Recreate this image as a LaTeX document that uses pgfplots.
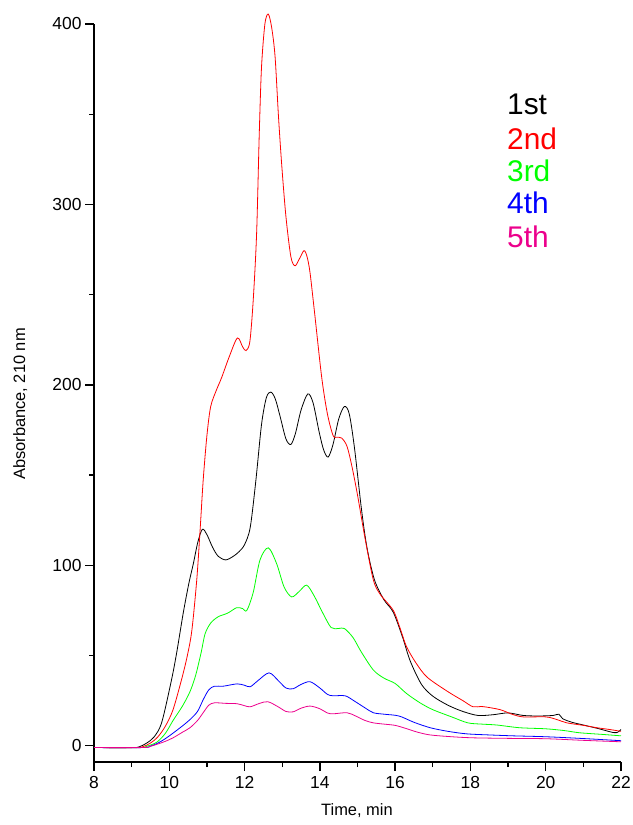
\documentclass[border=0pt]{standalone}
\usepackage{pgfplots}
\pgfplotsset{compat=1.18}
\usepackage{fontspec}
\setmainfont{Liberation Sans}

% Absorbance traces (210 nm) of five successive runs
\pgfplotstableread{
x y
8.0 -1
9.0 -1
9.2 -0.6
9.4 1.5
9.6 5
9.8 13
10.06 36.6
10.2 52
10.37 73.5
10.52 90
10.64 101
10.76 113
10.88 120
11.0 117
11.15 110
11.3 105
11.5 103
11.7 105
11.85 107.5
12.0 111.5
12.15 121
12.3 147
12.45 178
12.58 193
12.7 196
12.82 192
12.95 182
13.1 170
13.23 167
13.35 173
13.5 186
13.68 195
13.82 190
13.98 174
14.1 164
14.22 160
14.35 167
14.5 181
14.65 188
14.78 184
14.92 165
15.1 132
15.25 110
15.45 92
15.7 81
15.95 74
16.2 60
16.4 47
16.7 34
17.0 27.5
17.4 22.5
17.8 19
18.2 16.8
18.6 17.2
19.0 18.2
19.4 16.8
19.8 16.5
20.2 16.8
20.35 17.5
20.45 15
20.7 13
21.0 11.5
21.4 9.5
21.8 7.3
21.92 7.6
22.0 9
}\first

\pgfplotstableread{
x y
8.0 -1
9.1 -1
9.3 -0.5
9.5 1.5
9.7 5
9.9 11
10.1 20
10.33 37
10.48 50
10.6 64
10.73 92
10.82 120
10.9 147
11.0 172
11.1 188
11.25 197
11.39 204
11.6 216
11.81 226
11.95 221
12.04 219
12.14 224
12.23 247
12.32 284
12.39 339
12.45 376
12.54 400
12.63 405.5
12.72 398
12.81 382
12.9 349
12.99 321
13.1 293
13.23 271
13.34 266
13.46 270
13.58 274.4
13.66 271
13.74 262
13.87 238
14.05 204
14.2 184
14.35 172
14.45 171
14.58 170.5
14.72 166
14.85 155
15.0 139
15.2 115
15.42 92
15.6 84
15.95 75
16.15 64
16.3 55
16.55 46
16.85 38
17.4 30
17.8 25
18.07 21.6
18.33 21.7
18.79 20
19.1 17.5
19.4 16
20.0 16
20.3 14.5
20.56 12.7
21.0 11.3
21.36 10
21.7 9
22.0 8
}\second

\pgfplotstableread{
x y
8.0 -1
9.2 -1
9.4 -0.3
9.67 2
9.9 7
10.1 14
10.35 22
10.55 30
10.7 39
10.85 52
10.95 62
11.1 68
11.3 71.5
11.55 73.5
11.79 76.5
11.95 76
12.06 75
12.23 85
12.41 103
12.63 109.7
12.85 101
13.05 88
13.25 82.5
13.45 85.5
13.65 89
13.85 83
14.08 73.5
14.3 65.5
14.5 65
14.65 65
14.88 60
15.1 52
15.42 42
15.7 37.5
16.0 34.5
16.3 29
16.66 23.8
17.0 20
17.5 16
17.93 12.7
18.3 12
18.7 11.5
19.3 10
20.0 9.4
20.5 8.4
20.9 7.2
21.5 6.3
22.0 5.5
}\third

\pgfplotstableread{
x y
8.0 -1
9.3 -1
9.5 -0.2
9.7 1.5
9.9 4
10.1 7
10.35 11
10.55 14.5
10.75 19
10.9 25.5
11.05 31
11.2 33
11.43 33
11.8 34.3
12.0 33.5
12.15 32.7
12.35 36
12.65 40.4
12.9 36
13.1 32
13.29 31.6
13.5 34
13.74 35.5
14.0 32
14.2 28.5
14.35 27.7
14.67 27.7
14.9 25
15.2 21
15.42 18.3
15.7 17.5
16.1 16.5
16.5 13
16.93 10
17.4 8
17.9 6.6
18.5 6
19.13 5.5
20.0 5
21.0 4
22.0 2.8
}\fourth

\pgfplotstableread{
x y
8.0 -1
9.3 -1
9.5 -0.3
9.7 1
9.9 2.5
10.1 4.4
10.35 7.5
10.55 10
10.75 14
10.9 18.3
11.05 22.5
11.2 23.8
11.5 23.5
11.8 23.3
12.0 22.2
12.15 21.6
12.4 23.5
12.62 24.4
12.9 21.5
13.1 19
13.29 18.8
13.5 20.8
13.74 22
14.0 20.5
14.2 18.2
14.35 17.7
14.72 18.3
14.95 16.5
15.2 14
15.42 12.7
15.7 12
16.0 11.3
16.3 9.5
16.6 7.5
16.93 6
17.5 5
18.07 4.4
19.0 4.1
20.0 3.9
21.0 3
22.0 2.2
}\fifth

\begin{document}
\begin{tikzpicture}
\useasboundingbox (0,0) rectangle (633bp,825bp);
\begin{axis}[
  at={(94bp,63bp)}, anchor=south west,
  scale only axis, width=527bp, height=738bp,
  xmin=8, xmax=22, ymin=-9, ymax=400,
  clip=false,
  axis lines*=left,
  axis line style={line width=1.4bp},
  every tick/.style={line width=1.4bp, black},
  tick align=outside,
  major tick length=9bp, minor tick length=5bp,
  xtick={8,10,...,22}, minor xtick={9,11,...,21},
  ytick={0,100,...,400}, minor ytick={50,150,250,350},
  /pgf/number format/assume math mode=true,
  tick label style={font=\fontsize{17.5}{20}\selectfont},
  xticklabel style={yshift=-2bp},
  label style={font=\fontsize{16.5}{19}\selectfont},
  xlabel={Time, min},
  ylabel={Absorbance, 210 nm},
  xlabel style={at={(axis description cs:0.499,-0.066)}, anchor=center},
  ylabel style={at={(axis description cs:-0.14,0.485)}, anchor=center},
  every axis plot/.append style={smooth, tension=0.5, line width=0.8bp},
]
\addplot[black] table[x=x, y=y] {\first};
\addplot[red] table[x=x, y=y] {\second};
\addplot[green] table[x=x, y=y] {\third};
\addplot[blue] table[x=x, y=y] {\fourth};
\addplot[magenta] table[x=x, y=y] {\fifth};

\begin{scope}[every node/.style={anchor=base west, inner sep=0pt, font=\fontsize{30}{36}\selectfont}]
\node[text=black]   at (axis cs:18.97,349.6) {1st};
\node[text=red]     at (axis cs:18.97,330.2) {2nd};
\node[text=green]   at (axis cs:18.97,312.5) {3rd};
\node[text=blue]    at (axis cs:18.97,294.7) {4th};
\node[text=magenta] at (axis cs:18.97,275.9) {5th};
\end{scope}
\end{axis}
\end{tikzpicture}
\end{document}
